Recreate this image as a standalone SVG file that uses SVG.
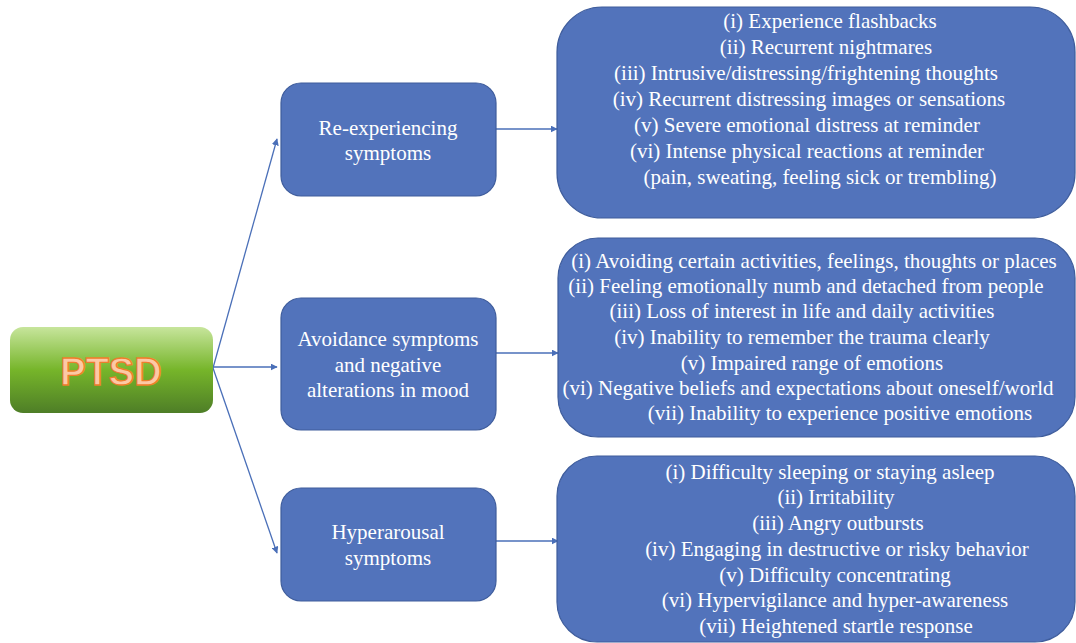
<svg xmlns="http://www.w3.org/2000/svg" width="1076" height="643" viewBox="0 0 1076 643">
<defs>
<linearGradient id="g" x1="0" y1="0" x2="0" y2="1">
<stop offset="0" stop-color="#c7e59c"/>
<stop offset="0.5" stop-color="#76b52a"/>
<stop offset="1" stop-color="#4e7e27"/>
</linearGradient>
<marker id="ah" viewBox="0 0 10 10" refX="9" refY="5" markerWidth="7" markerHeight="7" markerUnits="userSpaceOnUse" orient="auto">
<path d="M0,0 L10,5 L0,10 z" fill="#4a6fb8"/>
</marker>
<style>
.box{fill:#5273bb;stroke:#3f5d9c;stroke-width:1.2}
.t{font-family:"Liberation Serif","Times New Roman",serif;font-size:21px;fill:#ffffff;text-anchor:middle}
.c{stroke:#4a6fb8;stroke-width:1.3;fill:none;marker-end:url(#ah)}
</style>
</defs>
<rect width="1076" height="643" fill="#ffffff"/>
<g id="connectors">
<line class="c" x1="213" y1="368" x2="277" y2="139"/>
<line class="c" x1="213" y1="367" x2="277" y2="367"/>
<line class="c" x1="213" y1="368" x2="277" y2="553"/>
<line class="c" x1="496" y1="129" x2="557" y2="129"/>
<line class="c" x1="496" y1="353" x2="558" y2="353"/>
<line class="c" x1="496" y1="541" x2="558" y2="541"/>
</g>
<g id="ptsd">
<rect x="10" y="327" width="203" height="86" rx="13" fill="url(#g)"/>
<text x="111" y="385" text-anchor="middle" font-family="Liberation Sans, Arial, sans-serif" font-size="38" font-weight="bold" fill="#fcc9a6" stroke="#ee7d2c" stroke-width="1.3">PTSD</text>
</g>
<g id="reexp">
<rect class="box" x="281" y="83" width="215" height="113" rx="20"/>
<text class="t" x="388" y="135">Re-experiencing</text>
<text class="t" x="388" y="160">symptoms</text>
</g>
<g id="avoid">
<rect class="box" x="281" y="298" width="215" height="132" rx="20"/>
<text class="t" x="388" y="346">Avoidance symptoms</text>
<text class="t" x="388" y="372">and negative</text>
<text class="t" x="388" y="397">alterations in mood</text>
</g>
<g id="hyper">
<rect class="box" x="281" y="488" width="215" height="113" rx="20"/>
<text class="t" x="388" y="539">Hyperarousal</text>
<text class="t" x="388" y="565">symptoms</text>
</g>
<g id="list1">
<rect class="box" x="557" y="7" width="518" height="211" rx="45"/>
<text class="t" x="830" y="28">(i) Experience flashbacks</text>
<text class="t" x="826" y="54">(ii) Recurrent nightmares</text>
<text class="t" x="806" y="80">(iii) Intrusive/distressing/frightening thoughts</text>
<text class="t" x="809" y="106">(iv) Recurrent distressing images or sensations</text>
<text class="t" x="807" y="132">(v) Severe emotional distress at reminder</text>
<text class="t" x="807" y="158">(vi) Intense physical reactions at reminder</text>
<text class="t" x="820" y="184">(pain, sweating, feeling sick or trembling)</text>
</g>
<g id="list2">
<rect class="box" x="558" y="238" width="517" height="199" rx="40"/>
<text class="t" x="814" y="268">(i) Avoiding certain activities, feelings, thoughts or places</text>
<text class="t" x="806" y="293">(ii) Feeling emotionally numb and detached from people</text>
<text class="t" x="802" y="318">(iii) Loss of interest in life and daily activities</text>
<text class="t" x="802" y="344">(iv) Inability to remember the trauma clearly</text>
<text class="t" x="812" y="370">(v) Impaired range of emotions</text>
<text class="t" x="808" y="395">(vi) Negative beliefs and expectations about oneself/world</text>
<text class="t" x="840" y="420">(vii) Inability to experience positive emotions</text>
</g>
<g id="list3">
<rect class="box" x="557" y="456" width="518" height="186" rx="40"/>
<text class="t" x="830" y="479">(i) Difficulty sleeping or staying asleep</text>
<text class="t" x="836" y="504">(ii) Irritability</text>
<text class="t" x="838" y="530">(iii) Angry outbursts</text>
<text class="t" x="837" y="556">(iv) Engaging in destructive or risky behavior</text>
<text class="t" x="835" y="582">(v) Difficulty concentrating</text>
<text class="t" x="835" y="607">(vi) Hypervigilance and hyper-awareness</text>
<text class="t" x="836" y="633">(vii) Heightened startle response</text>
</g>
</svg>
